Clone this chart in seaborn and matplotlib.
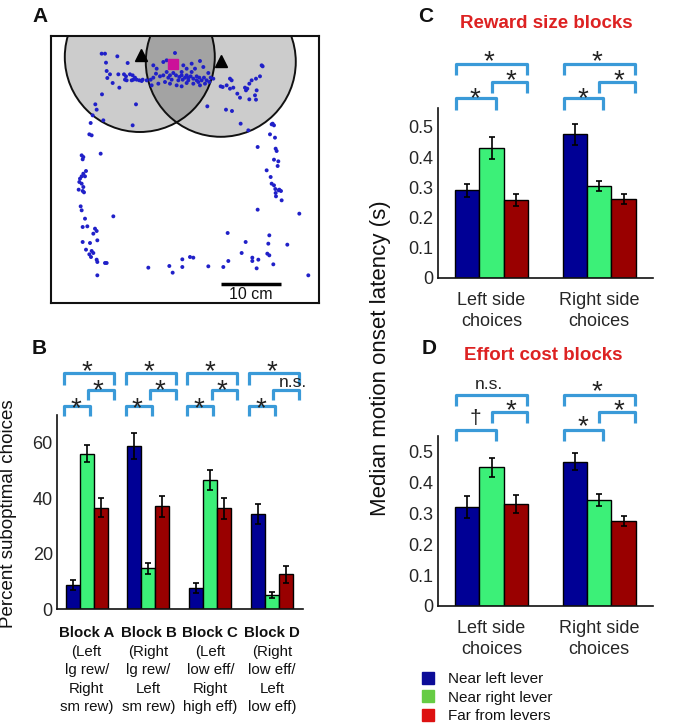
import numpy as np
import pandas as pd
import matplotlib
matplotlib.use("Agg")
import matplotlib.pyplot as plt
import seaborn as sns
from matplotlib.patches import Circle
from matplotlib.lines import Line2D

sns.set_theme(style="white")
plt.rcParams["font.family"] = ["Liberation Sans", "DejaVu Sans"]
plt.rcParams["text.color"] = "#111111"

# ---------------- data ----------------
locations = ["Near left lever", "Near right lever", "Far from levers"]
bar_colors = ["#000095", "#3cf078", "#990000"]
legend_colors = ["#0c0c98", "#66cc44", "#dd1111"]
bracket_color = "#3a9ad8"

blocks = ["Block A", "Block B", "Block C", "Block D"]
block_desc = ["(Left\nlg rew/\nRight\nsm rew)", "(Right\nlg rew/\nLeft\nsm rew)",
              "(Left\nlow eff/\nRight\nhigh eff)", "(Right\nlow eff/\nLeft\nlow eff)"]
subopt_near_left = [8.7, 58.8, 7.5, 34.4]
subopt_near_right = [56.0, 14.7, 46.7, 5.1]
subopt_far = [36.5, 37.0, 36.3, 12.5]
subopt_err_near_left = [1.8, 4.6, 1.8, 3.6]
subopt_err_near_right = [3.1, 2.0, 3.6, 1.2]
subopt_err_far = [3.4, 3.9, 3.8, 3.1]
subopt_sig = [["*", "*", "*"], ["*", "*", "*"], ["*", "*", "*"], ["*", "n.s.", "*"]]  # top, mid, low

sides = ["Left side\nchoices", "Right side\nchoices"]
reward_near_left = [0.290, 0.475]
reward_near_right = [0.430, 0.305]
reward_far = [0.258, 0.262]
reward_err_near_left = [0.022, 0.035]
reward_err_near_right = [0.037, 0.017]
reward_err_far = [0.020, 0.017]
reward_sig = [["*", "*", "*"], ["*", "*", "*"]]

effort_near_left = [0.320, 0.468]
effort_near_right = [0.449, 0.343]
effort_far = [0.330, 0.276]
effort_err_near_left = [0.035, 0.028]
effort_err_near_right = [0.030, 0.020]
effort_err_far = [0.030, 0.016]
effort_sig = [["n.s.", "*", "\u2020"], ["*", "*", "*"]]

# Panel A: digitized positions (image read-out units: 18 units = 1 cm)
dots_read = [
    (305,160),(315,160),(352,168),(318,187),(383,188),(320,212),(330,222),(322,233),(355,222),(372,222),
    (378,228),(390,222),(398,225),(405,232),(395,240),(380,240),(400,238),(410,238),(418,240),(425,242),
    (440,240),(452,238),(460,232),(468,220),(480,228),(490,225),(500,215),(510,225),(520,218),(528,225),
    (538,230),(545,215),(548,238),(555,232),(560,225),(565,240),(572,228),(580,235),(590,240),(598,232),
    (605,240),(612,232),(620,240),(628,245),(632,232),(640,235),(525,158),(500,180),(490,185),(460,195),
    (470,205),(550,195),(560,205),(575,190),(585,205),(600,182),(610,200),(625,218),(615,250),(600,255),
    (580,250),(560,248),(545,258),(530,255),(510,250),(495,245),(475,250),(455,255),(358,262),(375,238),
    (428,238),(338,248),(306,282),(286,312),(290,328),(278,345),(310,360),(408,312),(398,375),(272,368),
    (268,402),(275,405),(590,228),(575,215),(535,240),(515,238),(565,232),(595,245),(545,225),(505,232),
    (662,258),(668,260),(680,255),(690,265),(700,262),(690,235),(695,240),(712,280),(735,262),(742,265),
    (738,270),(748,250),(755,240),(768,235),(770,270),(780,228),(785,195),(788,198),(765,285),(768,298),
    (748,297),(720,292),(696,332),(678,328),(622,318),(722,370),(745,390),(815,372),(822,375),
    (302,460),(245,465),(250,470),(248,477),(258,512),(250,520),(245,528),(240,535),(238,545),(245,550),
    (250,560),(255,528),(248,572),(236,568),(252,576),(242,618),(245,630),(340,648),(255,655),(248,680),
    (262,678),(285,685),(290,692),(280,700),(292,720),(248,725),(270,728),(258,748),(275,752),(280,758),
    (268,762),(273,770),(290,778),(292,785),(315,788),(320,788),(292,825),
    (445,802),(508,797),(518,817),(547,800),(547,777),(570,770),(580,772),(625,798),(670,800),(685,782),
    (683,698),(725,758),(737,725),(757,772),(757,782),(770,804),(775,778),(808,705),(805,730),(802,760),
    (808,765),(820,792),(862,733),(898,640),(925,825),
    (818,370),(810,402),(825,412),(773,440),(827,445),(830,452),(822,478),(835,483),(833,497),(800,510),
    (812,530),(815,550),(822,555),(826,566),(838,568),(843,572),(836,570),(827,578),(845,600),(773,628),
    (828,588),
]
dot_x_cm = (np.array([d[0] for d in dots_read]) - 153) / 18.0
dot_y_cm = (908 - np.array([d[1] for d in dots_read])) / 18.0
zone_centers_cm = [(14.8, 41.0), (28.3, 40.2)]
zone_radius_cm = 12.5
lever_cm = [(15.0, 41.3), (28.3, 40.3)]
feeder_cm = (20.3, 39.8)
arena_w_cm, arena_h_cm = 44.67, 44.5

# ---------------- figure ----------------
W, H = 682, 725
fig = plt.figure(figsize=(W / 100, H / 100), dpi=100)
fig.patch.set_facecolor("white")


def rect(l, t, r, b):
    return [l / W, 1 - b / H, (r - l) / W, (b - t) / H]


# ---- Panel A ----
axA = fig.add_axes(rect(51, 36, 319, 303))
axA.set_xlim(0, arena_w_cm)
axA.set_ylim(0, arena_h_cm)
for c in zone_centers_cm:
    axA.add_patch(Circle(c, zone_radius_cm, facecolor=(0, 0, 0, 0.2), edgecolor="#111111", lw=1.4, zorder=1))
sns.scatterplot(x=dot_x_cm, y=dot_y_cm, ax=axA, s=8, color="#2020c8", edgecolor="none", linewidth=0, zorder=3)
axA.plot([p[0] for p in lever_cm], [p[1] for p in lever_cm], ls="none", marker="^", ms=8, color="black", zorder=4)
axA.plot([feeder_cm[0]], [feeder_cm[1]], ls="none", marker="s", ms=7, color="#cc1199", zorder=4)
axA.plot([28.3, 38.3], [3.2, 3.2], color="black", lw=2.5, solid_capstyle="butt")
axA.text(33.3, 1.4, "10 cm", ha="center", va="center", fontsize=11.5)
axA.set_xticks([]); axA.set_yticks([])
for s in axA.spines.values():
    s.set_visible(True); s.set_color("#111111"); s.set_linewidth(1.5)
fig.text(40 / W, 1 - 16 / H, "A", fontsize=15, fontweight="bold", ha="center", va="center")


def bars(ax, cats, vals, errs):
    rows = []
    for i, loc in enumerate(locations):
        for j, c in enumerate(cats):
            rows.append({"cat": c, "loc": loc, "value": vals[i][j]})
    df = pd.DataFrame(rows)
    sns.barplot(data=df, x="cat", y="value", hue="loc", order=cats, hue_order=locations,
                palette=bar_colors, width=0.68, gap=0, saturation=1, edgecolor="black",
                linewidth=1.0, errorbar=None, legend=False, ax=ax)
    conts = list(ax.containers)[:3]
    for i, cont in enumerate(conts):
        for j, bar in enumerate(cont):
            x = bar.get_x() + bar.get_width() / 2
            ax.errorbar(x, bar.get_height(), yerr=errs[i][j], color="black", lw=1.2,
                        capsize=2, capthick=1.2, zorder=5)
    ax.set_xlabel(""); ax.set_ylabel("")
    sns.despine(ax=ax)
    for s in ("left", "bottom"):
        ax.spines[s].set_color("#111111"); ax.spines[s].set_linewidth(1.2)
    ax.tick_params(length=0, labelsize=13, pad=3)


def bracket(ax, x0, x1, yh, yl):
    ax.plot([x0, x0, x1, x1], [yl, yh, yh, yl], color=bracket_color, lw=2.3, clip_on=False,
            solid_joinstyle="round", solid_capstyle="butt")


STAR_FS = 20


def sig_text(ax, x, y, s):
    # y is the visual centre of the mark
    if s == "*":
        ax.annotate(s, xy=(x, y), xytext=(0, -0.57 * STAR_FS), textcoords="offset points",
                    ha="center", va="baseline", fontsize=STAR_FS, annotation_clip=False, color="#222222")
    elif s == "\u2020":
        ax.text(x, y, s, ha="center", va="center", fontsize=15, clip_on=False, color="#222222")
    else:
        ax.text(x, y, s, ha="center", va="center", fontsize=12.5, clip_on=False, color="#222222")


# ---- Panel B ----
axB = fig.add_axes(rect(57, 415, 303, 609))
bars(axB, blocks,
     [subopt_near_left, subopt_near_right, subopt_far],
     [subopt_err_near_left, subopt_err_near_right, subopt_err_far])
axB.set_xlim(-0.48, 3.5)
axB.set_ylim(0, 70)
axB.set_yticks([0, 20, 40, 60])
axB.set_xticks(range(4)); axB.set_xticklabels([])
for g in range(4):
    bracket(axB, g - 0.37, g + 0.44, 85.2, 80.8)
    bracket(axB, g + 0.02, g + 0.44, 79.0, 75.4)
    bracket(axB, g - 0.37, g + 0.05, 73.3, 69.6)
    top, mid, low = subopt_sig[g]
    sig_text(axB, g, 88.8, top)
    if mid == "*":
        sig_text(axB, g + 0.18, 81.6, mid)
    else:
        sig_text(axB, g + 0.33, 81.9, mid)
    sig_text(axB, g - 0.18, 75.4, low)
    axB.text(g, -8.7, blocks[g], ha="center", va="center", fontsize=10.8, fontweight="bold", clip_on=False)
    axB.text(g, -13.1, block_desc[g], ha="center", va="top", fontsize=10.8, linespacing=1.38, clip_on=False)
fig.text(9 / W, 1 - 514 / H, "Percent suboptimal choices", rotation=90, ha="center", va="center", fontsize=13.5)
fig.text(39 / W, 1 - 348 / H, "B", fontsize=15, fontweight="bold", ha="center", va="center")


def side_panel(ax, vals, errs, sig, ytop, lev):
    bars(ax, sides, vals, errs)
    ax.set_xlim(-0.5, 1.5)
    ax.set_ylim(0, ytop)
    ax.set_yticks([0, 0.1, 0.2, 0.3, 0.4, 0.5])
    ax.set_yticklabels(["0", "0.1", "0.2", "0.3", "0.4", "0.5"])
    ax.set_xticks([0, 1]); ax.set_xticklabels(sides, linespacing=1.35)
    ax.tick_params(axis="x", labelsize=13, pad=10)
    th, tl, mh, ml, lh, ll, ts, ms_, ls_ = lev
    for g in range(2):
        bracket(ax, g - 0.33, g + 0.33, th, tl)
        bracket(ax, g + 0.0, g + 0.33, mh, ml)
        bracket(ax, g - 0.33, g + 0.04, lh, ll)
        top, mid, low = sig[g]
        sig_text(ax, g - 0.02, ts[g], top)
        sig_text(ax, g + 0.18, ms_, mid)
        sig_text(ax, g - 0.15, ls_, low)


# ---- Panel C ----
axC = fig.add_axes(rect(437.7, 108, 653, 278))
side_panel(axC, [reward_near_left, reward_near_right, reward_far],
           [reward_err_near_left, reward_err_near_right, reward_err_far], reward_sig, 0.562,
           (0.707, 0.671, 0.648, 0.611, 0.595, 0.555, (0.744, 0.744), 0.681, 0.621))
fig.text(426 / W, 1 - 16 / H, "C", fontsize=15, fontweight="bold", ha="center", va="center")
fig.text(546 / W, 1 - 24 / H, "Reward size blocks", fontsize=13.5, fontweight="bold", color="#dd2222",
         ha="center", va="center")

# ---- Panel D ----
axD = fig.add_axes(rect(437.7, 436, 653, 606))
side_panel(axD, [effort_near_left, effort_near_right, effort_far],
           [effort_err_near_left, effort_err_near_right, effort_err_far], effort_sig, 0.551,
           (0.684, 0.648, 0.629, 0.593, 0.570, 0.535, (0.719, 0.723), 0.661, 0.607))
fig.text(429 / W, 1 - 349 / H, "D", fontsize=15, fontweight="bold", ha="center", va="center")
fig.text(543 / W, 1 - 355 / H, "Effort cost blocks", fontsize=13.5, fontweight="bold", color="#dd2222",
         ha="center", va="center")

fig.text(381 / W, 1 - 358 / H, "Median motion onset latency (s)", rotation=90, ha="center", va="center",
         fontsize=16)

# ---- legend ----
handles = [Line2D([], [], ls="none", marker="s", ms=8, color=c) for c in legend_colors]
fig.legend(handles, locations, loc="upper left", bbox_to_anchor=(420 / W, 1 - 672 / H),
           frameon=False, fontsize=11, handlelength=1.0, handletextpad=0.8, labelspacing=0.3,
           borderaxespad=0, borderpad=0)

fig.savefig("out.png", dpi=100, facecolor="white")
